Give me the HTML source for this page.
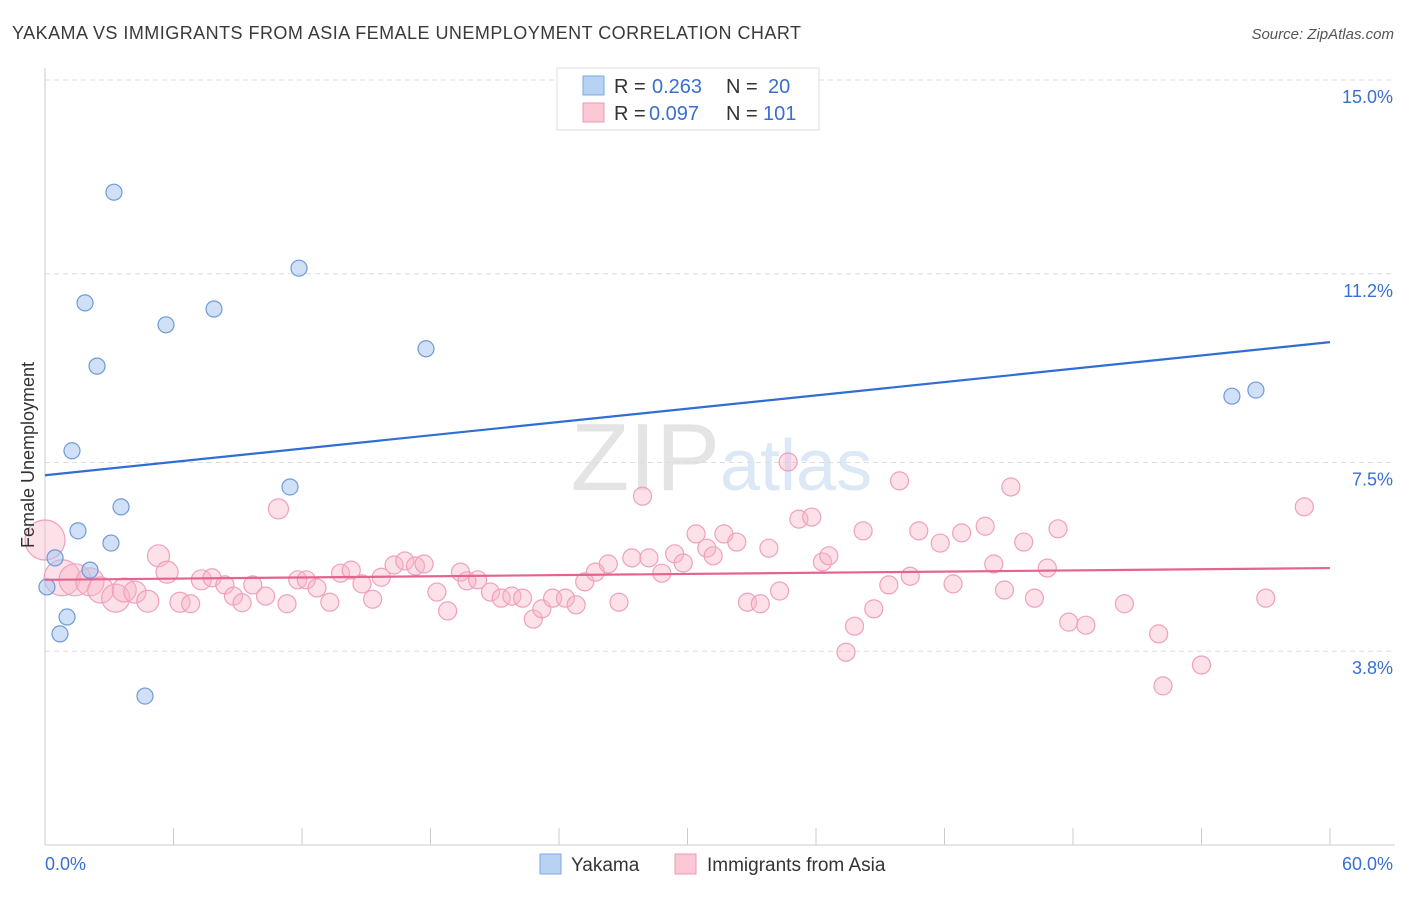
<!DOCTYPE html>
<html><head><meta charset="utf-8"><style>
body{margin:0;background:#fff;font-family:"Liberation Sans",sans-serif;}
svg text{font-family:"Liberation Sans",sans-serif;}
</style></head><body>
<svg id="chart" width="1406" height="892" viewBox="0 0 1406 892" xmlns="http://www.w3.org/2000/svg">
<text x="12" y="39" font-size="18" fill="#3a3a3a" textLength="789" lengthAdjust="spacing">YAKAMA VS IMMIGRANTS FROM ASIA FEMALE UNEMPLOYMENT CORRELATION CHART</text>
<text x="1394" y="39" font-size="15" fill="#555" text-anchor="end" font-style="italic">Source: ZipAtlas.com</text>
<text x="720" y="490" font-size="96" fill="#e4e4e4" text-anchor="end" font-family="Liberation Serif">ZIP</text>
<text x="720" y="490" font-size="72" fill="#dce8f6">atlas</text>
<g id="grid"></g>
<g id="axes"></g>
<g id="pink"></g>
<g id="blue"></g>
<g id="trend"></g>
<text transform="translate(34,455) rotate(-90)" font-size="18" fill="#333" text-anchor="middle">Female Unemployment</text>
<g>
<rect x="557" y="68" width="262" height="62" fill="#fff" stroke="#ddd"/>
<rect x="583" y="76" width="21" height="19" fill="#b8d2f4" stroke="#7fa8e0"/>
<rect x="583" y="103" width="21" height="19" fill="#fcc8d6" stroke="#ec99b2"/>
<text x="614" y="93" font-size="20" fill="#333">R =</text>
<text x="652" y="93" font-size="20" fill="#3a6fd0">0.263</text>
<text x="726" y="93" font-size="20" fill="#333">N =</text>
<text x="768" y="93" font-size="20" fill="#3a6fd0">20</text>
<text x="614" y="120" font-size="20" fill="#333">R =</text>
<text x="649" y="120" font-size="20" fill="#3a6fd0">0.097</text>
<text x="726" y="120" font-size="20" fill="#333">N =</text>
<text x="763" y="120" font-size="20" fill="#3a6fd0">101</text>
</g>
<g>
<rect x="540" y="854" width="21" height="20" fill="#b8d2f4" stroke="#7fa8e0"/>
<text x="571" y="871" font-size="19" fill="#333">Yakama</text>
<rect x="675" y="854" width="21" height="20" fill="#fcc8d6" stroke="#ec99b2"/>
<text x="707" y="871" font-size="19" fill="#333">Immigrants from Asia</text>
</g>
</svg>
<script>
const yTicks=[3.8,7.5,11.2,15.0];
const yTickLabels=["3.8%","7.5%","11.2%","15.0%"];
const xTickCount=10;
const blueX=[0.09,0.47,0.70,1.03,1.26,1.54,1.87,2.10,2.43,3.08,3.22,3.55,4.67,5.65,7.89,11.44,11.86,17.79,55.42,56.54];
const blueY=[5.06,5.63,4.14,4.47,7.73,6.16,10.63,5.39,9.39,5.92,12.80,6.63,2.92,10.20,10.51,7.02,11.31,9.73,8.80,8.92];
const pinkX=[0.0,0.8,1.4,2.1,2.6,3.3,3.7,4.2,4.8,5.3,5.7,6.3,6.8,7.3,7.8,8.4,8.8,9.2,9.7,10.3,10.9,11.3,11.8,12.2,12.7,13.3,13.8,14.3,14.8,15.3,15.7,16.3,16.8,17.3,17.7,18.3,18.8,19.4,19.7,20.2,20.8,21.3,21.8,22.3,22.8,23.2,23.7,24.3,24.8,25.2,25.7,26.3,26.8,27.4,27.9,28.2,28.8,29.4,29.8,30.4,30.9,31.2,31.7,32.3,32.8,33.4,33.8,34.3,34.7,35.2,35.8,36.3,36.6,37.4,37.8,38.2,38.7,39.4,39.9,40.4,40.8,41.8,42.4,42.8,43.9,44.3,44.8,45.1,45.7,46.2,46.8,47.3,47.8,48.6,50.4,52.0,52.2,54.0,57.0,58.8];
const pinkY=[5.98,5.24,5.20,5.16,5.00,4.84,5.00,4.96,4.78,5.67,5.35,4.76,4.73,5.20,5.24,5.10,4.88,4.75,5.10,4.88,6.59,4.73,5.20,5.20,5.04,4.76,5.33,5.39,5.12,4.82,5.25,5.49,5.57,5.47,5.51,4.96,4.59,5.35,5.18,5.20,4.96,4.84,4.88,4.84,4.43,4.63,4.84,4.84,4.71,5.16,5.35,5.51,4.76,5.63,6.84,5.63,5.33,5.71,5.53,6.10,5.82,5.67,6.10,5.94,4.76,4.73,5.82,4.98,7.51,6.39,6.43,5.55,5.67,3.78,4.29,6.16,4.63,5.10,7.14,5.27,6.16,5.92,5.12,6.12,6.25,5.51,5.00,7.02,5.94,4.84,5.43,6.20,4.37,4.31,4.73,4.14,3.12,3.53,4.84,6.63];
const pinkR=[20,18,16,14,13,14,12,11,11,11,11,10,9,10,9,9,9,9,9,9,10];
const blueTrend=[7.25,9.86];
const pinkTrend=[5.20,5.43];
const NS="http://www.w3.org/2000/svg";
const X=v=>45+v/60*1285;
const Y=v=>845-v*51.0;
function mk(tag,attrs,parent){const e=document.createElementNS(NS,tag);for(const k in attrs)e.setAttribute(k,attrs[k]);parent.appendChild(e);return e;}
const grid=document.getElementById('grid'),axes=document.getElementById('axes');
yTicks.forEach((t,i)=>{
 const l=mk('line',{x1:45,x2:1395,y1:Y(t),y2:Y(t),stroke:'#ddd','stroke-dasharray':'5,4'},grid);
 
 
 const tx=mk('text',{x:1393,y:Y(t)+23,'font-size':18,fill:'#3a6fd0','text-anchor':'end'},axes);
 tx.textContent=yTickLabels[i];
 
 
});
const ax=mk('line',{x1:45,x2:45,y1:68,y2:845,stroke:'#ccc'},axes);


const bx=mk('line',{x1:45,x2:1395,y1:845,y2:845,stroke:'#ccc'},axes);


for(let i=0;i<=xTickCount;i++){
 const xv=i*60/xTickCount;
 const t=mk('line',{x1:X(xv),x2:X(xv),y1:828,y2:845,stroke:'#ccc'},axes);
 
 
}
const xl0=mk('text',{x:45,y:870,'font-size':18,fill:'#3a6fd0'},axes);xl0.textContent='0.0%';


const xl1=mk('text',{x:1393,y:870,'font-size':18,fill:'#3a6fd0','text-anchor':'end'},axes);xl1.textContent='60.0%';


const pg=document.getElementById('pink');
pinkX.forEach((x,i)=>{
 const c=mk('circle',{cx:X(x),cy:Y(pinkY[i]),r:pinkR[i]||9,fill:'rgba(248,180,200,0.4)',stroke:'#f0a0bb','stroke-width':1.2},pg);
 
 
});
const bg=document.getElementById('blue');
blueX.forEach((x,i)=>{
 const c=mk('circle',{cx:X(x),cy:Y(blueY[i]),r:8,fill:'rgba(170,200,240,0.55)',stroke:'#6f9ad8','stroke-width':1.2},bg);
 
 
});
const tg=document.getElementById('trend');
const b=mk('line',{x1:X(0),y1:Y(blueTrend[0]),x2:X(60),y2:Y(blueTrend[1]),stroke:'#2f6fd3','stroke-width':2.2},tg);


const p=mk('line',{x1:X(0),y1:Y(pinkTrend[0]),x2:X(60),y2:Y(pinkTrend[1]),stroke:'#e5638f','stroke-width':2.2},tg);


</script>
</body></html>
